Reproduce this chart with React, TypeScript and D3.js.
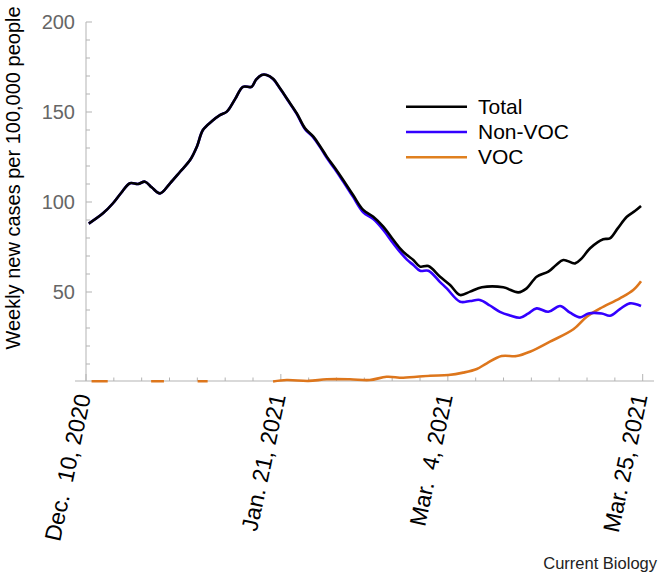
import React from "react";
import * as d3 from "d3";

// x positions are in tick-index units (21 ticks, 0..20)
const tickLabels = [
  { t: 0, label: "Dec.  10, 2020" },
  { t: 7, label: "Jan. 21, 2021" },
  { t: 13, label: "Mar.  4, 2021" },
  { t: 20, label: "Mar. 25, 2021" },
];

const totalT = [0.1, 0.61, 0.97, 1.26, 1.58, 1.87, 2.12, 2.37, 2.66, 3.02, 3.38, 3.74, 3.99, 4.2, 4.53, 4.81, 5.06, 5.35, 5.64, 5.95, 6.11, 6.31, 6.49, 6.72, 6.97, 7.26, 7.57, 7.87, 8.17, 8.41, 8.65, 8.94, 9.24, 9.59, 9.96, 10.32, 10.68, 10.99, 11.28, 11.53, 11.76, 12.0, 12.3, 12.72, 13.08, 13.44, 13.8, 14.22, 14.99, 15.53, 15.83, 16.19, 16.61, 16.89, 17.15, 17.57, 17.81, 18.11, 18.58, 18.82, 19.11, 19.43, 19.72, 19.94];
const totalV = [88, 93.7, 99.3, 105, 110.4, 110, 111.3, 108, 104.8, 110.4, 116.8, 123.3, 131, 140, 145, 148.3, 150.2, 157, 164, 164, 168, 170.6, 170.6, 168.5, 163.2, 156.5, 149.3, 140.9, 136.3, 131, 125.2, 119, 112.2, 104, 95.6, 91.8, 86.3, 80, 74.3, 70.5, 67.8, 64.1, 64.4, 58.5, 53.9, 48.3, 50.2, 52.6, 52.6, 49.8, 52, 58.5, 61.3, 65, 67.8, 65.9, 68.7, 74.3, 79.3, 79.8, 85.5, 91.8, 95, 97.8];

const nonVocT = [0.1, 0.61, 0.97, 1.26, 1.58, 1.87, 2.12, 2.37, 2.66, 3.02, 3.38, 3.74, 3.99, 4.2, 4.53, 4.81, 5.06, 5.35, 5.64, 5.95, 6.11, 6.31, 6.49, 6.72, 6.97, 7.26, 7.57, 7.87, 8.17, 8.41, 8.65, 8.94, 9.24, 9.59, 9.96, 10.32, 10.68, 10.99, 11.28, 11.53, 11.76, 12.0, 12.3, 12.72, 12.96, 13.44, 13.8, 14.15, 14.51, 14.87, 15.23, 15.59, 15.88, 16.19, 16.61, 17.03, 17.39, 17.75, 18.05, 18.53, 18.82, 19.18, 19.54, 19.94];
const nonVocV = [88, 93.7, 99.3, 105, 110.4, 110, 111.3, 108, 104.8, 110.4, 116.8, 123.3, 131, 140, 145, 148.3, 150.2, 157, 164, 164, 168, 170.6, 170.6, 168.3, 163, 156.3, 149, 140.5, 135.8, 130.5, 124.5, 118.3, 111.3, 103, 94.3, 90.5, 84.5, 78, 72.3, 68, 65, 61.8, 61.8, 55.5, 52, 44.6, 45, 45.6, 42.5, 39, 37, 35.7, 38, 40.9, 39, 42.2, 38.5, 35.9, 38.1, 38.1, 36.8, 40.5, 43.7, 42.2];

// NaN marks a gap in the VOC series
const vocT = [0.2, 0.78, 1.5, 2.34, 2.8, 3.4, 4.01, 4.37, 5.5, 6.72, 7.21, 7.99, 8.65, 9.48, 10.2, 10.8, 11.4, 12.36, 13.02, 13.55, 14.04, 14.4, 14.93, 15.47, 15.95, 16.67, 17.51, 17.99, 18.47, 19.18, 19.66, 19.94];
const vocV = [0.4, 0.4, NaN, 0.4, 0.4, NaN, 0.4, 0.4, NaN, 0.3, 1.1, 0.6, 1.5, 1.5, 1.1, 2.9, 2.4, 3.5, 3.9, 5.2, 7.2, 10.4, 14.4, 14.4, 16.8, 22.4, 29.3, 36.3, 40.9, 46.5, 51.1, 56];

const yMajor = [50, 100, 150, 200];
const yMinor = d3.range(10, 200, 10).filter((v) => v % 50 !== 0);

const legendItems = [
  { name: "Total", color: "#000000" },
  { name: "Non-VOC", color: "#3300ff" },
  { name: "VOC", color: "#e0801f" },
];

const FONT = "'Liberation Sans', Arial, Helvetica, sans-serif";

export default function App() {
  const W = 660;
  const H = 573;
  const x = d3.scaleLinear().domain([0, 20]).range([86, 642.7]);
  const y = d3.scaleLinear().domain([0, 200]).range([382, 22]);

  const mk = (ts: number[], vs: number[]) =>
    d3
      .line<number>()
      .defined((i) => !isNaN(vs[i]))
      .x((i) => x(ts[i]))
      .y((i) => y(vs[i]))
      .curve(d3.curveCatmullRom.alpha(0.5))(d3.range(ts.length)) || "";

  const totalPath = mk(totalT, totalV);
  const nonVocPath = mk(nonVocT, nonVocV);
  const vocPath = mk(vocT, vocV);

  const axisColor = "#b3b3b3";
  const xTicks = d3.range(0, 21);
  const labeled = new Set(tickLabels.map((d) => d.t));

  return (
    <svg width={W} height={H} style={{ position: "absolute", left: 0, top: 0 }} fontFamily={FONT}>
      <rect width={W} height={H} fill="#fff" />
      {/* y axis */}
      <line x1={86} x2={86} y1={y(200)} y2={381} stroke={axisColor} strokeWidth={1} />
      {yMajor.map((v) => (
        <g key={"ym" + v}>
          <line x1={86} x2={92} y1={y(v)} y2={y(v)} stroke={axisColor} />
          <text x={75} y={y(v)} dy="0.36em" textAnchor="end" fontSize={20} fill="#666">
            {v}
          </text>
        </g>
      ))}
      {yMinor.map((v) => (
        <line key={"yn" + v} x1={86} x2={90} y1={y(v)} y2={y(v)} stroke={axisColor} />
      ))}
      {/* x axis */}
      <line x1={75} x2={654} y1={381} y2={381} stroke={axisColor} strokeWidth={1} />
      {xTicks.map((t) => (
        <line
          key={"xt" + t}
          x1={x(t)}
          x2={x(t)}
          y1={381}
          y2={labeled.has(t) ? 374 : 377.5}
          stroke={axisColor}
        />
      ))}
      {tickLabels.map((d) => (
        <text
          key={d.label}
          transform={`translate(${x(d.t) + 5},396) rotate(-78)`}
          textAnchor="end"
          fontSize={23}
          fill="#000"
          xmlSpace="preserve"
          style={{ whiteSpace: "pre" }}
        >
          {d.label}
        </text>
      ))}
      {/* y label */}
      <text transform="translate(20,178) rotate(-90)" textAnchor="middle" fontSize={20} fill="#000">
        Weekly new cases per 100,000 people
      </text>
      {/* series */}
      <path d={vocPath} fill="none" stroke="#dd761c" strokeWidth={2.6} />
      <path d={nonVocPath} fill="none" stroke="#3300ff" strokeWidth={2.6} />
      <path d={totalPath} fill="none" stroke="#000" strokeWidth={2.6} />
      {/* legend */}
      {legendItems.map((d, i) => (
        <g key={d.name}>
          <line x1={406} x2={467} y1={106.7 + i * 25.3} y2={106.7 + i * 25.3} stroke={d.color} strokeWidth={2.5} />
          <text x={478} y={106.7 + i * 25.3 + 7} fontSize={21} fill="#000">
            {d.name}
          </text>
        </g>
      ))}
      <text x={657} y={569} textAnchor="end" fontSize={16.5} fill="#222">
        Current Biology
      </text>
    </svg>
  );
}
